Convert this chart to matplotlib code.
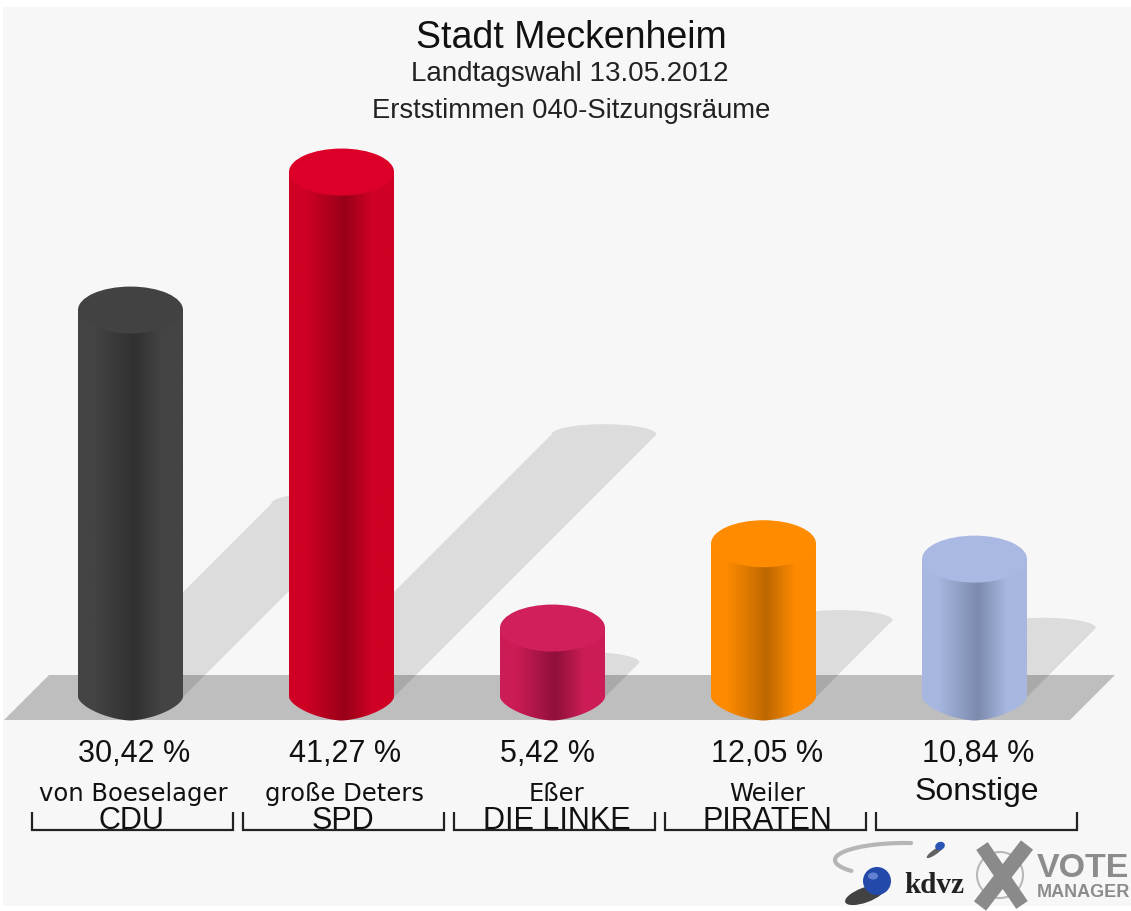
import numpy as np
import matplotlib
matplotlib.use("Agg")
import matplotlib.pyplot as plt
from matplotlib.patches import Ellipse, Polygon, Circle, Rectangle
from matplotlib.colors import LinearSegmentedColormap

plt.rcParams['font.family'] = ['Liberation Sans', 'DejaVu Sans']

# Daten
kandidaten = ["von Boeselager", "große Deters", "Eßer", "Weiler", "Sonstige"]
parteien = ["CDU", "SPD", "DIE LINKE", "PIRATEN", ""]
prozent = [30.42, 41.27, 5.42, 12.05, 10.84]
prozent_text = ["30,42 %", "41,27 %", "5,42 %", "12,05 %", "10,84 %"]

# Farben: Deckel, Rand, dunkle Mitte
farbe_deckel = ["#424242", "#dc0029", "#d01f5a", "#ff8c00", "#a9b9e3"]
farbe_rand = ["#444444", "#d00024", "#cc1c56", "#fd8a00", "#a7b7e0"]
farbe_mitte = ["#303030", "#980018", "#8f103a", "#bd6800", "#7c8aad"]

BG = "#f7f7f7"
W, H = 1131, 911
X0, DX = 130.5, 211.0     # Pixel: Mitte erste Saeule, Abstand
Y0, PX_PRO_PROZENT = 697.0, 12.72

fig = plt.figure(figsize=(W / 100, H / 100), dpi=100, facecolor="white")

# Hauptachse: x = Kategorie, y = Prozent
ax = fig.add_axes([0, 0, 1, 1], zorder=2)
xlim = (-X0 / DX, (W - X0) / DX)
ylim = ((Y0 - H) / PX_PRO_PROZENT, Y0 / PX_PRO_PROZENT)
ax.patch.set_alpha(0)
ax.axis('off')

# Pixelachse fuer Hintergrund und Boden
ov = fig.add_axes([0, 0, 1, 1], zorder=1)
ov.set_xlim(0, W)
ov.set_ylim(H, 0)
ov.axis('off')
ov.add_patch(Rectangle((3, 7), W - 3, 899, fc=BG, ec="none"))

# Pixelachse oben drauf fuer Text und Logo
top = fig.add_axes([0, 0, 1, 1], zorder=3)
top.set_xlim(0, W)
top.set_ylim(H, 0)
top.patch.set_alpha(0)
top.axis('off')

# Boden
ov.add_patch(Polygon([(4, 720), (49, 675), (1115, 675), (1070, 720)],
                     closed=True, fc="#bdbebd", ec="none"))

HW = 52.5 / DX           # halbe Saeulenbreite in x-Einheiten
RY = 23.5 / PX_PRO_PROZENT  # Halbachse der Ellipse in Prozent
SCHATTEN_X = 0.5 * PX_PRO_PROZENT / DX
t_oben = np.linspace(np.pi, 0, 60)
t_unten = np.linspace(0, -np.pi, 60)

for i, wert in enumerate(prozent):
    # Schatten: halb so hoch wie die Saeule, 45 Grad nach rechts
    sx = i + wert * SCHATTEN_X
    sy = wert * 0.5
    bogen = [(sx + HW * np.cos(t), sy + 0.44 * RY * np.sin(t)) for t in t_oben]
    pts = [(i - HW, 0.0)] + bogen + [(i + HW, 0.0)]
    ax.add_patch(Polygon(pts, closed=True, fc="black", alpha=0.105, ec="none", zorder=1))

    # Saeule mit Verlauf, unten eher spitz als rund
    cmap = LinearSegmentedColormap.from_list(
        "s", [(0, farbe_rand[i]), (0.15, farbe_rand[i]), (0.53, farbe_mitte[i]),
              (0.8, farbe_rand[i]), (1, farbe_rand[i])])
    koerper = [(i - HW, wert), (i + HW, wert)]
    koerper += [(i + HW * np.sign(np.cos(t)) * abs(np.cos(t)) ** 1.25,
                 -RY * abs(np.sin(t)) ** 1.25) for t in t_unten]
    clip = Polygon(koerper, closed=True, transform=ax.transData, fc="none", ec="none")
    ax.add_patch(clip)
    grad = np.linspace(0, 1, 256).reshape(1, -1)
    im = ax.imshow(grad, cmap=cmap, extent=(i - HW, i + HW, -RY, wert), aspect='auto',
                   zorder=2, interpolation='bilinear')
    im.set_clip_path(clip)

    # Deckel
    ax.add_patch(Ellipse((i, wert), 2 * HW, 2 * RY, fc=farbe_deckel[i], ec="none", zorder=3))

ax.set_xlim(*xlim)
ax.set_ylim(*ylim)

# Titel
top.text(571, 48, "Stadt Meckenheim", ha='center', va='baseline', fontsize=27, color="#111111")
top.text(570, 81, "Landtagswahl 13.05.2012", ha='center', va='baseline', fontsize=20, color="#222222")
top.text(571, 118, "Erststimmen 040-Sitzungsräume", ha='center', va='baseline', fontsize=19.8, color="#222222")

# Beschriftung unter den Saeulen
name_offset = [3, 3, 4, 4, 2]
partei_offset = [1, 1, 4, 4, 0]
for i in range(len(prozent)):
    mitte = X0 + DX * i
    top.text(mitte - 52.5, 762, prozent_text[i], ha='left', va='baseline', fontsize=22, color="#111111")
    if kandidaten[i] == "Sonstige":
        top.text(mitte + name_offset[i], 800, kandidaten[i], ha='center', va='baseline', fontsize=23, color="#111111")
    else:
        top.text(mitte + name_offset[i], 801, kandidaten[i], ha='center', va='baseline', fontsize=17.5,
                 family=['DejaVu Sans'], color="#111111")
    top.text(mitte + partei_offset[i], 829, parteien[i], ha='center', va='baseline', fontsize=22, color="#111111")
    # Klammer
    l, r = mitte - 98.5, mitte + 102.5
    top.plot([l, l, r, r], [812, 830, 830, 812], color="#222222", lw=1.6, solid_joinstyle='miter', solid_capstyle='butt')

# Logo kdvz
t = np.radians(np.linspace(140, 275, 60))
top.plot(905 + 70 * np.cos(t), 860 + 17 * np.sin(t), color="#b5b5b5", lw=3, solid_capstyle='round')
top.add_patch(Ellipse((935, 852), 20, 5, angle=-35, fc="#222222", ec="none", alpha=0.7))
top.add_patch(Ellipse((940, 846), 10, 8, angle=-25, fc="#2b55b5", ec="none"))
top.add_patch(Ellipse((865, 895), 42, 15, angle=-20, fc="#222222", ec="none", alpha=0.85))
top.add_patch(Circle((877, 881), 14, fc="#2349ab", ec="none"))
top.add_patch(Ellipse((873, 876), 10, 7, fc="#7c9ae0", ec="none", alpha=0.7))
top.text(904, 893, "kdvz", ha='left', va='baseline', fontsize=21, family=['Liberation Serif'],
         weight='bold', color="#222222")

# Logo VOTE MANAGER
top.add_patch(Circle((1000, 875), 23, fc="none", ec="#b8b8b8", lw=1.5))
top.plot([982, 1022], [846, 905], color="#8a8a8a", lw=10, solid_capstyle='butt')
top.plot([1027, 980], [845, 906], color="#8a8a8a", lw=11, solid_capstyle='butt')
top.text(1037, 877, "VOTE", ha='left', va='baseline', fontsize=24.5, weight='bold', color="#8c8c8c")
top.text(1037, 897, "MANAGER", ha='left', va='baseline', fontsize=13, weight='bold', color="#8c8c8c")

fig.savefig("out.png", dpi=100, facecolor="white")
